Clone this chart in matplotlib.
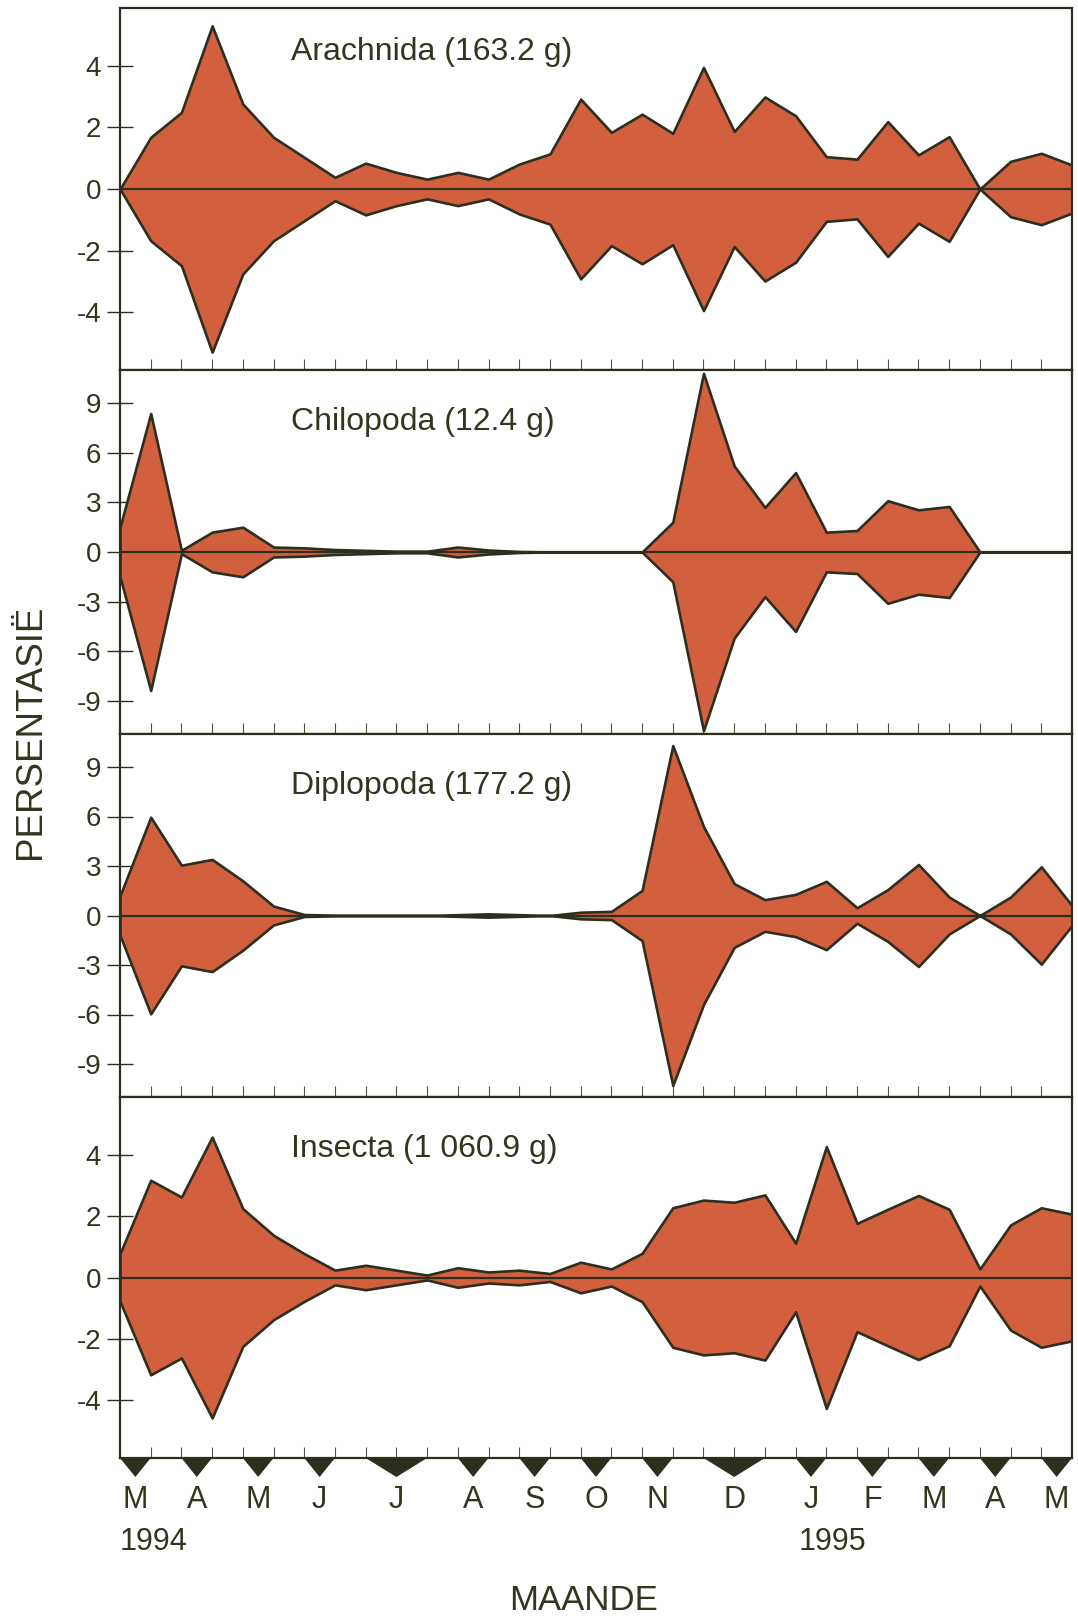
import matplotlib
matplotlib.use("Agg")
import matplotlib.pyplot as plt
import matplotlib.transforms as mtransforms

# Persentasie per monsterneming (simmetriese "kite" diagramme), 32 monsters
arachnida = [0, 1.68, 2.49, 5.3, 2.76, 1.68, 1.03, 0.38, 0.84, 0.54, 0.32, 0.54, 0.32, 0.81, 1.14, 2.92,
             1.84, 2.43, 1.81, 3.95, 1.87, 2.99, 2.38, 1.05, 0.97, 2.19, 1.11, 1.70, 0, 0.9, 1.16, 0.78]
chilopoda = [1.5, 8.37, 0.1, 1.2, 1.5, 0.3, 0.25, 0.15, 0.1, 0.05, 0.05, 0.3, 0.12, 0.03, 0, 0,
             0, 0, 1.8, 10.8, 5.2, 2.7, 4.8, 1.2, 1.3, 3.1, 2.55, 2.75, 0, 0, 0, 0]
diplopoda = [1.2, 5.96, 3.05, 3.4, 2.1, 0.57, 0.06, 0.02, 0, 0, 0, 0.05, 0.1, 0.05, 0, 0.2,
             0.25, 1.52, 10.3, 5.4, 1.93, 0.96, 1.28, 2.07, 0.47, 1.57, 3.09, 1.12, 0, 1.12, 2.95, 0.6]
insecta = [0.78, 3.18, 2.63, 4.59, 2.25, 1.38, 0.78, 0.24, 0.40, 0.24, 0.08, 0.32, 0.18, 0.24, 0.13, 0.5,
           0.28, 0.79, 2.28, 2.53, 2.46, 2.70, 1.12, 4.28, 1.77, 2.23, 2.68, 2.23, 0.28, 1.72, 2.28, 2.07]

titels = ["Arachnida (163.2 g)", "Chilopoda (12.4 g)", "Diplopoda (177.2 g)", "Insecta (1 060.9 g)"]
reekse = [arachnida, chilopoda, diplopoda, insecta]
y_perke = [5.88, 11, 11, 5.9]
y_merke = [[4, 2, 0, -2, -4], [9, 6, 3, 0, -3, -6, -9], [9, 6, 3, 0, -3, -6, -9], [4, 2, 0, -2, -4]]

# maande en waar hulle op die monster-as val
maande = ["M", "A", "M", "J", "J", "A", "S", "O", "N", "D", "J", "F", "M", "A", "M"]
maand_pos = [0.5, 2.5, 4.5, 6.5, 9, 11.5, 13.5, 15.5, 17.5, 20, 22.5, 24.5, 26.5, 28.5, 30.5]
maand_breed = [0.5, 0.5, 0.5, 0.5, 1.0, 0.5, 0.5, 0.5, 0.5, 1.0, 0.5, 0.5, 0.5, 0.5, 0.5]
jare = ["1994", "1995"]
jaar_pos = [0, 23.2]

x = list(range(len(arachnida)))

vul = "#D2603F"
donker = "#2E2E1E"
teks = "#34341f"
gewoon = ["Liberation Sans", "DejaVu Sans"]

W, H = 1078, 1618
fig = plt.figure(figsize=(W / 100, H / 100), dpi=100)
fig.patch.set_facecolor("white")

panele = [(8, 370), (370, 734), (734, 1097), (1097, 1458)]
links, regs = 120, 1072

for i, (bo, onder) in enumerate(panele):
    ax = fig.add_axes([links / W, 1 - onder / H, (regs - links) / W, (onder - bo) / H])
    v = reekse[i]
    neg = [-a for a in v]
    ax.fill_between(x, neg, v, facecolor=vul, edgecolor=donker, linewidth=1.9, zorder=2)
    ax.axhline(0, color=donker, linewidth=1.6, zorder=3)
    ax.set_xlim(0, 31)
    ax.set_ylim(-y_perke[i], y_perke[i])
    ax.set_yticks(y_merke[i])
    ax.set_yticklabels([str(t) for t in y_merke[i]], family=gewoon, fontsize=20, color=teks)
    ax.tick_params(axis="y", direction="inout", length=19, width=1.0, color=donker, pad=4)
    ax.set_xticks(x[1:-1])
    ax.set_xticklabels([])
    ax.tick_params(axis="x", direction="in", length=8, width=0.8, color="#55553f")
    for s in ax.spines.values():
        s.set_color(donker)
        s.set_linewidth(1.6)
    ty = 0.878 if i == 0 else 0.857
    ax.text(0.18, ty, titels[i], transform=ax.transAxes, ha="left", va="center",
            family=gewoon, fontsize=23, color=teks)

# driehoekies onder die onderste paneel wat die maande aandui
ax_m = fig.add_axes([links / W, 1 - 1477 / H, (regs - links) / W, 19 / H])
ax_m.set_xlim(0, 31)
ax_m.set_ylim(0, 1)
for m, w in zip(maand_pos, maand_breed):
    ax_m.fill([m - w, m + w, m], [1, 1, 0], color=donker, linewidth=0)
ax_m.axis("off")

tr = mtransforms.blended_transform_factory(ax_m.transData, fig.transFigure)
for m, lbl in zip(maand_pos, maande):
    ax_m.text(m, 1 - 1500 / H, lbl, transform=tr, ha="center", va="center",
              family=gewoon, fontsize=22, color=teks)
for p, j in zip(jaar_pos, jare):
    ax_m.text(p, 1 - 1542 / H, j, transform=tr, ha="left" if p == 0 else "center", va="center",
              family=gewoon, fontsize=22, color=teks)

fig.text(584 / W, 1 - 1600 / H, "MAANDE", ha="center", va="center",
         family=gewoon, fontsize=25, color=teks)
fig.text(31 / W, 1 - 732 / H, "PERSENTASIË", ha="center", va="center", rotation=90,
         family=gewoon, fontsize=26.5, color=teks)

fig.savefig("out.png", dpi=100, facecolor="white")
